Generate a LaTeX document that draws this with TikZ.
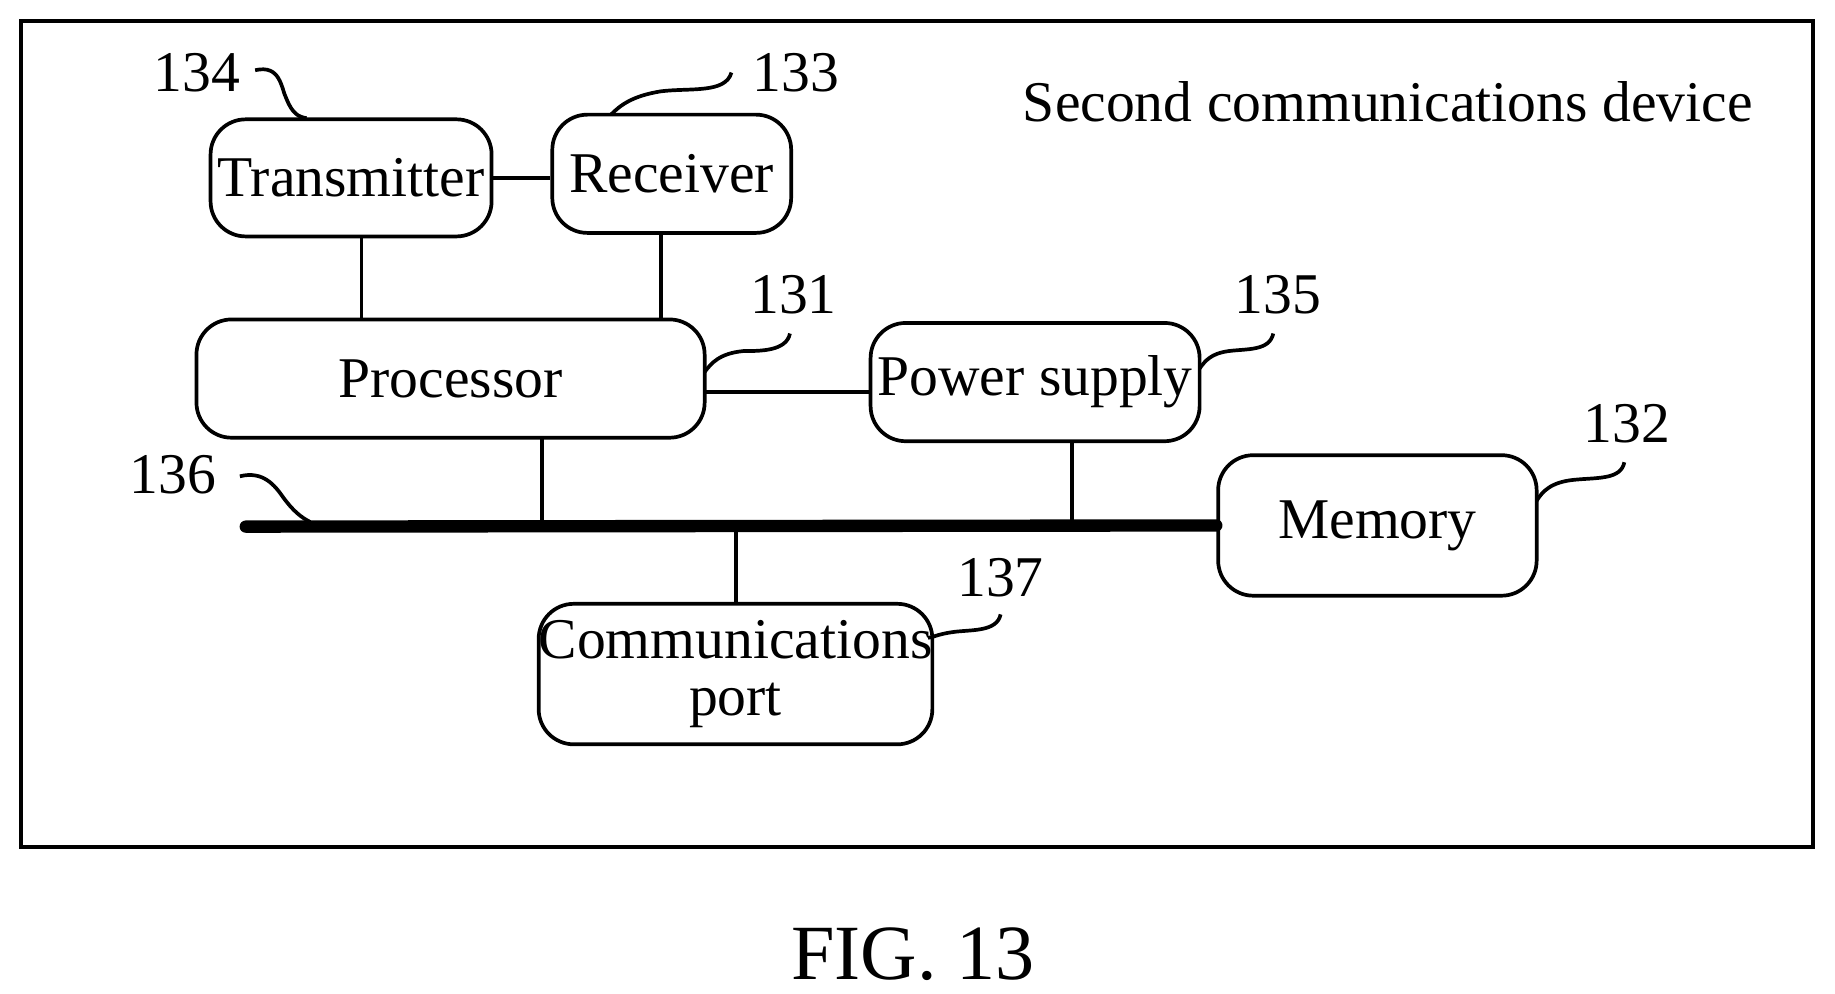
\documentclass[tikz,border=0pt]{standalone}
\usepackage{fontspec}
\setmainfont{Liberation Serif}
\begin{document}
\begin{tikzpicture}[x=0.01cm,y=-0.01cm,
 box/.style={draw,line width=0.9pt,rounded corners=0.3cm,font=\fontsize{14}{16}\selectfont,align=center,inner sep=0pt},
 lab/.style={font=\fontsize{14}{16}\selectfont},
 ln/.style={line width=0.9pt}]
\useasboundingbox (0,0) rectangle (1568,849);
\draw[ln] (18,18) rectangle (1549,724);
\node[box,minimum width=2.4cm,minimum height=1cm] (tx) at (300,152) {Transmitter};
\node[box,minimum width=2.04cm,minimum height=1.01cm] (rx) at (574,148.5) {Receiver};
\node[box,minimum width=4.34cm,minimum height=1.01cm] (pr) at (385,323.5) {Processor};
\node[box,minimum width=2.81cm,minimum height=1.01cm] (ps) at (884.5,326.5) {Power supply};
\node[box,minimum width=2.72cm,minimum height=1.2cm] (me) at (1177,449) {Memory};
\node[box,minimum width=3.29cm,minimum height=1.2cm] (cp) at (628.5,576) {Communications\\[-2pt]port};
\node[lab,anchor=east] at (1510,87) {Second communications device};
\node[font=\fontsize{19}{22}\selectfont] at (780,815) {FIG. 13};
\node[lab] (l134) at (168,62) {134};
\node[lab] (l133) at (680,62) {133};
\node[lab] (l131) at (678,252) {131};
\node[lab] (l135) at (1092,252) {135};
\node[lab] (l132) at (1390,362) {132};
\node[lab] (l136) at (148,406) {136};
\node[lab] (l137) at (855,494) {137};
% bus
\coordinate (b0) at (210,450);
\draw[line width=3pt,line cap=round] (b0) -- (me.west);
\draw[ln] (tx.east) -- (tx.east -| rx.west);
\draw[ln] (309,202) -- (309,273);
\draw[ln] (565,199) -- (565,273);
\draw[ln] (602,335) -- (744,335);
\draw[ln] (463,374) -- (463,450);
\draw[ln] (916,377) -- (916,450);
\draw[ln] (629,450) -- (cp.north -| 629,0);
% leaders
\draw[ln] (218,60) .. controls (240,55) and (240,75) .. (245,85) .. controls (250,97) and (255,100) .. (262,101);
\draw[ln] (625,62) .. controls (620,80) and (590,75) .. (565,78) .. controls (540,82) and (530,90) .. (522,98);
\draw[ln] (675,285) .. controls (672,300) and (650,300) .. (635,300) .. controls (615,302) and (608,310) .. (602,318);
\draw[ln] (1088,285) .. controls (1085,300) and (1065,298) .. (1050,300) .. controls (1035,302) and (1030,308) .. (1025,315);
\draw[ln] (1388,395) .. controls (1385,410) and (1365,408) .. (1345,410) .. controls (1325,412) and (1318,420) .. (1313,428);
\draw[ln] (205,407) .. controls (225,402) and (235,415) .. (242,425) .. controls (250,436) and (257,442) .. (265,446);
\draw[ln] (855,525) .. controls (852,540) and (830,538) .. (815,540) .. controls (800,542) and (797,545) .. (793,545);
\end{tikzpicture}
\end{document}
